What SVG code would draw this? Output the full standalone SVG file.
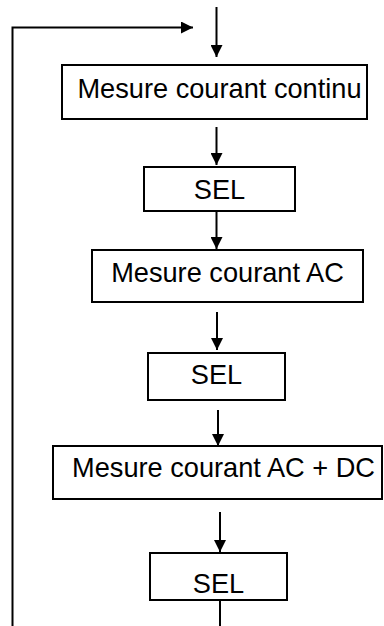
<svg xmlns="http://www.w3.org/2000/svg" width="384" height="626" viewBox="0 0 384 626">
<style>
.box{fill:#fff;stroke:#000;stroke-width:2}
.lbl{font-family:"Liberation Sans",Arial,sans-serif;font-size:27.2px;fill:#000;text-anchor:middle}
.ln{fill:none;stroke:#000;stroke-width:2}
</style>
<defs>
<marker id="ah" viewBox="0 0 12 12" refX="12" refY="6" markerWidth="12" markerHeight="12" markerUnits="userSpaceOnUse" orient="auto">
<path d="M0,0 L12,6 L0,12 Z" fill="#000"/>
</marker>
</defs>
<g id="connectors">
<line class="ln" x1="216.5" y1="7" x2="216.5" y2="57" marker-end="url(#ah)"/>
<polyline class="ln" points="12.5,626 12.5,27.5 193,27.5" marker-end="url(#ah)"/>
<line class="ln" x1="216.5" y1="127" x2="216.5" y2="165" marker-end="url(#ah)"/>
<line class="ln" x1="216.5" y1="211" x2="216.5" y2="249" marker-end="url(#ah)"/>
<line class="ln" x1="217" y1="312" x2="217" y2="350" marker-end="url(#ah)"/>
<line class="ln" x1="218" y1="410" x2="218" y2="446" marker-end="url(#ah)"/>
<line class="ln" x1="220" y1="512" x2="220" y2="552" marker-end="url(#ah)"/>
<line class="ln" x1="220" y1="600" x2="220" y2="626"/>
</g>
<g id="n1">
<rect class="box" x="62" y="65" width="305" height="54"/>
<text class="lbl" x="219.5" y="97.5">Mesure courant continu</text>
</g>
<g id="n2">
<rect class="box" x="144" y="167" width="151" height="44"/>
<text class="lbl" x="219.5" y="199">SEL</text>
</g>
<g id="n3">
<rect class="box" x="92" y="250" width="271" height="52"/>
<text class="lbl" x="227.5" y="282">Mesure courant AC</text>
</g>
<g id="n4">
<rect class="box" x="148" y="353" width="137" height="47"/>
<text class="lbl" x="216.5" y="384">SEL</text>
</g>
<g id="n5">
<rect class="box" x="53" y="446" width="329" height="53"/>
<text class="lbl" x="223.5" y="477">Mesure courant AC + DC</text>
</g>
<g id="n6">
<rect class="box" x="150" y="553" width="137" height="47"/>
<text class="lbl" x="218.5" y="593">SEL</text>
</g>
</svg>
